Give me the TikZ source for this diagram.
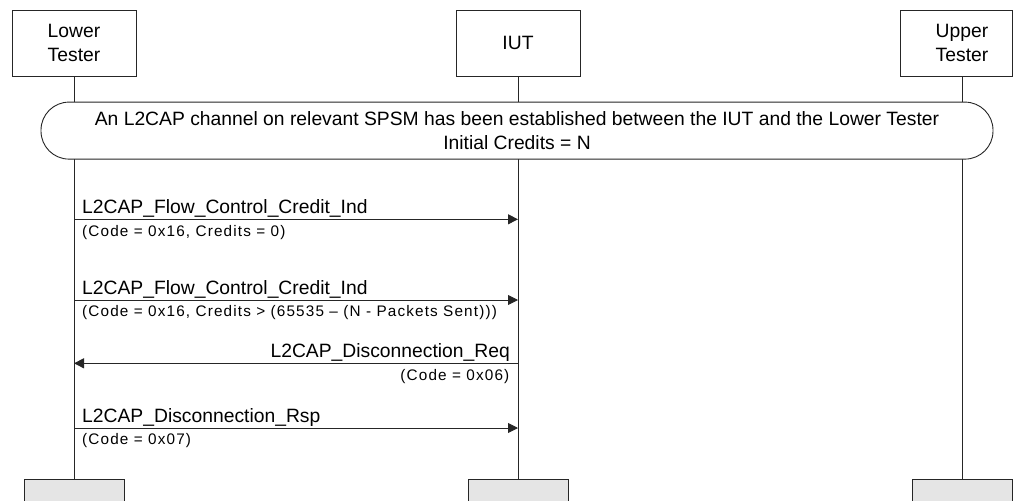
\documentclass[tikz,border=0pt]{standalone}
\usepackage{fontspec}
\setmainfont{Liberation Sans}
\newfontfamily\subfont[LetterSpace=7.5]{Liberation Sans}
\usetikzlibrary{arrows.meta}
\begin{document}
\begin{tikzpicture}[x=1pt,y=-1pt,
  ln/.style={draw=black!85, line width=0.9pt},
  headbox/.style={ln, fill=white, minimum height=66pt, inner sep=0pt, align=center, font=\fontsize{19.3}{23.7}\selectfont},
  footbox/.style={ln, fill=black!10, minimum width=100pt, minimum height=30pt, inner sep=0pt},
  statebox/.style={ln, fill=white, rounded corners=28pt, minimum width=952pt, minimum height=57pt, inner sep=0pt, align=center, font=\fontsize{19.3}{24.3}\selectfont},
  msg/.style={ln, -{Triangle[length=10pt,width=10pt]}},
  lbl/.style={inner sep=0pt, font=\fontsize{19.3}{23}\selectfont},
  sublbl/.style={inner sep=0pt, font=\fontsize{15.3}{18}\subfont},
]
\useasboundingbox (0,0) rectangle (1013,501);
% header boxes
\node[headbox, minimum width=124pt] (lt) at (74,43) {Lower\\Tester};
\node[headbox, minimum width=124pt] (iut) at (518,43) {IUT};
\node[headbox, minimum width=112pt] (ut) at (956,43) {};
\node[inner sep=0pt, align=center, font=\fontsize{19.3}{23.7}\selectfont] (utt) at (962,43) {Upper\\Tester};
% footer boxes
\node[footbox] (ltf) at (74,494.3) {};
\node[footbox] (iutf) at (518,494.3) {};
\node[footbox] (utf) at (962,494.3) {};
% lifelines
\draw[ln] (lt.south) -- (ltf.north);
\draw[ln] (iut.south) -- (iutf.north);
\draw[ln] (utf.north |- ut.south) -- (utf.north);
% state
\node[statebox] (st) at (517,130.6) {An L2CAP channel on relevant SPSM has been established between the IUT and the Lower Tester\\Initial Credits = N};
% messages
\coordinate (m1a) at (74,219.3); \coordinate (m1b) at (518,219.3);
\draw[msg] (m1a) -- (m1b);
\node[lbl, anchor=base west] (m1l) at (82,213.6) {L2CAP\_Flow\_Control\_Credit\_Ind};
\node[sublbl, anchor=base west] (m1s) at (82,236.1) {(Code = 0x16, Credits = 0)};

\coordinate (m2a) at (74,300); \coordinate (m2b) at (518,300);
\draw[msg] (m2a) -- (m2b);
\node[lbl, anchor=base west] (m2l) at (82,294.3) {L2CAP\_Flow\_Control\_Credit\_Ind};
\node[sublbl, anchor=base west] (m2s) at (82,316.8) {(Code = 0x16, Credits > (65535 – (N - Packets Sent)))};

\coordinate (m3a) at (518,363.3); \coordinate (m3b) at (74,363.3);
\draw[msg] (m3a) -- (m3b);
\node[lbl, anchor=base east] (m3l) at (510,357.6) {L2CAP\_Disconnection\_Req};
\node[sublbl, anchor=base east] (m3s) at (509.5,380.1) {(Code = 0x06)};

\coordinate (m4a) at (74,428); \coordinate (m4b) at (518,428);
\draw[msg] (m4a) -- (m4b);
\node[lbl, anchor=base west] (m4l) at (82,422.3) {L2CAP\_Disconnection\_Rsp};
\node[sublbl, anchor=base west] (m4s) at (82,444.8) {(Code = 0x07)};
\end{tikzpicture}
\end{document}
